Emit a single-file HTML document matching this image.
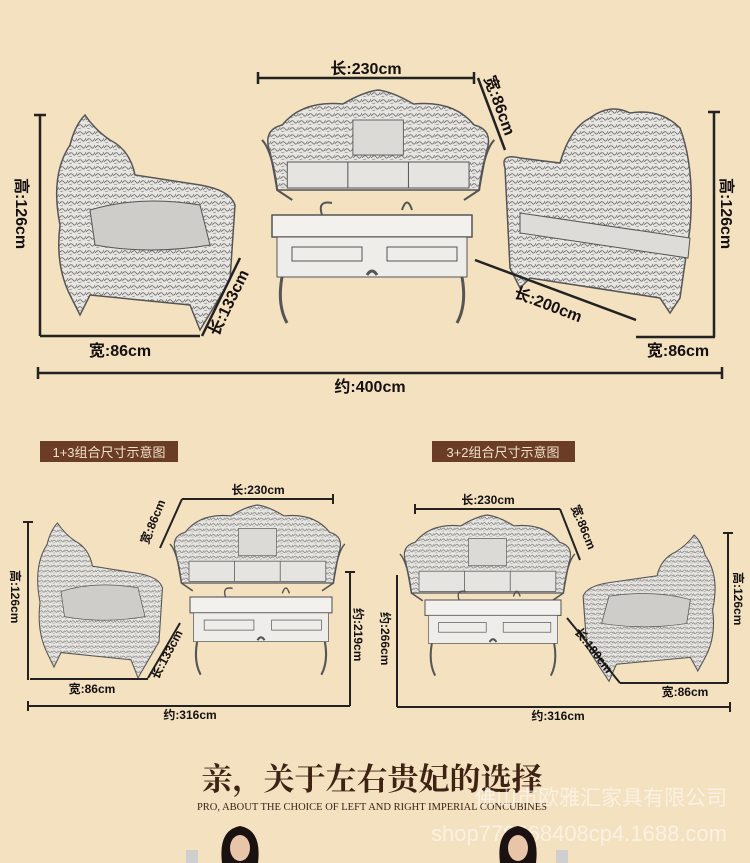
<!DOCTYPE html>
<html><head><meta charset="utf-8"><style>
html,body{margin:0;padding:0;background:#f3e1c0;}
svg{display:block}
text{font-family:"Liberation Sans","Noto Sans CJK SC",sans-serif;fill:#151010;}
</style></head><body>
<svg width="750" height="863" viewBox="0 0 750 863" xmlns="http://www.w3.org/2000/svg">
<defs>
<pattern id="h" width="9" height="7" patternUnits="userSpaceOnUse">
<rect width="9" height="7" fill="#e6e5e2"/>
<path d="M0 5 Q3 1 5 4 T9 2" stroke="#75736f" stroke-width="0.9" fill="none"/>
<path d="M1 7 L4 6" stroke="#8e8c88" stroke-width="0.7"/>
</pattern>
<g id="sofa">
<path d="M8 62 Q0 40 20 35 Q40 10 80 14 Q100 2 115 0 Q130 2 150 14 Q190 10 210 35 Q230 40 222 62 L215 100 L15 100 Z" fill="url(#h)" stroke="#555" stroke-width="1.5"/>
<rect x="25" y="72" width="180" height="26" fill="#e6e4e0" stroke="#555"/>
<line x1="85" y1="72" x2="85" y2="98" stroke="#555"/><line x1="145" y1="72" x2="145" y2="98" stroke="#555"/>
<path d="M0 50 Q10 60 15 100 L30 110 M230 50 Q220 60 215 100 L200 110" stroke="#555" stroke-width="2" fill="none"/>
<rect x="90" y="30" width="50" height="35" fill="#dcdad6" stroke="#666"/>
</g>
<g id="table">
<rect x="0" y="0" width="200" height="22" fill="#f2f1ee" stroke="#555" stroke-width="1.5"/>
<rect x="5" y="22" width="190" height="40" fill="#eeedea" stroke="#555"/>
<rect x="20" y="32" width="70" height="14" fill="none" stroke="#555"/><rect x="115" y="32" width="70" height="14" fill="none" stroke="#555"/>
<path d="M10 62 Q5 90 15 108 M190 62 Q195 90 185 108 M95 60 Q100 52 105 60" stroke="#555" stroke-width="3" fill="none"/>
<path d="M50 0 Q45 -15 60 -12 M130 -5 Q135 -20 140 -5" stroke="#555" stroke-width="2" fill="none"/>
</g>
<g id="chair">
<path d="M20 30 Q25 10 35 0 Q45 15 60 25 Q80 35 85 60 L150 70 Q180 75 185 90 L180 165 L165 190 L150 215 L140 190 L40 180 L30 200 L20 180 Q5 150 10 110 Q0 60 20 30 Z" fill="url(#h)" stroke="#555" stroke-width="1.5"/>
<path d="M40 95 Q90 80 150 90 L160 130 Q100 140 45 130 Z" fill="#cfcdca" stroke="#555"/>
</g>
</defs>

<!-- TOP -->
<use href="#chair" transform="translate(50,115) scale(1,1)"/>
<use href="#sofa" transform="translate(262,90) scale(1.01,1)"/>
<use href="#table" transform="translate(272,215) scale(1.0,1)"/>
<g transform="translate(500,108)">
<path d="M5 60 Q0 45 20 50 L60 55 Q70 20 90 10 Q110 -5 130 5 Q160 0 180 20 Q195 60 190 120 L180 190 L170 205 L160 190 L30 170 L20 180 L10 160 Z" fill="url(#h)" stroke="#555" stroke-width="1.5"/>
<path d="M20 105 L190 130 L188 150 L20 125 Z" fill="#dedcd8" stroke="#555"/>
</g>

<g stroke="#222" stroke-width="2.5" fill="none">
<path d="M258 78 H474 M258 72 V84 M474 72 V84"/>
<path d="M478 78 L505 150"/>
<path d="M40 115 V336 M34 115 H46"/>
<path d="M40 336 H200"/>
<path d="M240 258 L202 336"/>
<path d="M475 260 L636 320"/>
<path d="M636 337 H715"/>
<path d="M714 112 V337 M708 112 H720"/>
<path d="M38 373 H722 M38 367 V379 M722 367 V379"/>
</g>
<g font-weight="bold">
<text x="366" y="74" font-size="16" text-anchor="middle">长:230cm</text>
<text transform="translate(484,78) rotate(70)" font-size="16">宽:86cm</text>
<text transform="translate(16,178) rotate(90)" font-size="16">高:126cm</text>
<text x="120" y="356" font-size="16" text-anchor="middle">宽:86cm</text>
<text transform="translate(218,337) rotate(-64)" font-size="16">长:133cm</text>
<text transform="translate(513,297) rotate(21)" font-size="16">长:200cm</text>
<text x="678" y="356" font-size="16" text-anchor="middle">宽:86cm</text>
<text transform="translate(721,178) rotate(90)" font-size="16">高:126cm</text>
<text x="370" y="392" font-size="16" text-anchor="middle">约:400cm</text>
</g>

<!-- BOTTOM LEFT -->
<rect x="40" y="441" width="138" height="21" fill="#6b3d27"/>
<text x="109" y="457" font-size="13" text-anchor="middle" style="fill:#f2e2c8">1+3组合尺寸示意图</text>
<use href="#chair" transform="translate(33,523) scale(0.7,0.72)"/>
<use href="#sofa" transform="translate(170,505) scale(0.76,0.78)"/>
<use href="#table" transform="translate(190,597) scale(0.71,0.72)"/>
<g stroke="#222" stroke-width="2" fill="none">
<path d="M182 499 H333 M333 494 V504"/>
<path d="M182 499 L160 548"/>
<path d="M28 522 V680 M23 522 H33"/>
<path d="M30 679 H148"/>
<path d="M180 623 L148 678"/>
<path d="M350 572 V706 M345 572 H355"/>
<path d="M28 706 H350 M28 701 V711"/>
</g>
<g font-weight="bold">
<text x="258" y="494" font-size="12" text-anchor="middle">长:230cm</text>
<text transform="translate(148,545) rotate(-68)" font-size="12">宽:86cm</text>
<text transform="translate(11,570) rotate(90)" font-size="12">高:126cm</text>
<text x="92" y="693" font-size="12" text-anchor="middle">宽:86cm</text>
<text transform="translate(158,680) rotate(-62)" font-size="12">长:133cm</text>
<text transform="translate(354,608) rotate(90)" font-size="12">约:219cm</text>
<text x="190" y="719" font-size="12" text-anchor="middle">约:316cm</text>
</g>

<!-- BOTTOM RIGHT -->
<rect x="432" y="441" width="143" height="21" fill="#6b3d27"/>
<text x="503" y="457" font-size="13" text-anchor="middle" style="fill:#f2e2c8">3+2组合尺寸示意图</text>
<use href="#sofa" transform="translate(400,515) scale(0.76,0.78)"/>
<use href="#table" transform="translate(425,600) scale(0.68,0.7)"/>
<g transform="translate(720,535) scale(-0.74,0.68)"><use href="#chair"/></g>
<g stroke="#222" stroke-width="2" fill="none">
<path d="M415 509 H560 M415 504 V514"/>
<path d="M560 509 L580 560"/>
<path d="M728 533 V683 M723 533 H733"/>
<path d="M620 683 H728"/>
<path d="M567 618 L620 683"/>
<path d="M397 575 V707"/>
<path d="M397 707 H730 M730 702 V712"/>
</g>
<g font-weight="bold">
<text x="488" y="504" font-size="12" text-anchor="middle">长:230cm</text>
<text transform="translate(571,507) rotate(68)" font-size="12">宽:86cm</text>
<text transform="translate(734,572) rotate(90)" font-size="12">高:126cm</text>
<text x="685" y="696" font-size="12" text-anchor="middle">宽:86cm</text>
<text transform="translate(574,632) rotate(52)" font-size="12">长:180cm</text>
<text transform="translate(381,612) rotate(90)" font-size="12">约:266cm</text>
<text x="558" y="720" font-size="12" text-anchor="middle">约:316cm</text>
</g>

<!-- HEADING -->
<text x="372" y="790" font-size="31" font-weight="bold" text-anchor="middle" style="fill:#3e2214;font-family:'Liberation Serif','Noto Serif CJK SC',serif">亲，关于左右贵妃的选择</text>
<text x="372" y="810" font-size="10.5" text-anchor="middle" style="fill:#3a2418;font-family:'Liberation Serif',serif">PRO, ABOUT THE CHOICE OF LEFT AND RIGHT IMPERIAL CONCUBINES</text>
<text x="727" y="805" font-size="21" text-anchor="end" style="fill:#ffffff;fill-opacity:0.55">佛山市欧雅汇家具有限公司</text>
<text x="727" y="841" font-size="22" text-anchor="end" style="fill:#ffffff;fill-opacity:0.55">shop779268408cp4.1688.com</text>

<!-- women -->
<path d="M222 863 Q218 830 240 826 Q262 830 258 863 Z" fill="#1a1210"/>
<ellipse cx="240" cy="848" rx="10" ry="13" fill="#e8c4a8"/>
<path d="M500 863 Q496 830 518 826 Q540 830 536 863 Z" fill="#1a1210"/>
<ellipse cx="518" cy="848" rx="10" ry="13" fill="#e8c4a8"/>
<rect x="186" y="850" width="12" height="13" fill="#cfcfcf"/>
<rect x="556" y="850" width="12" height="13" fill="#cfcfcf"/>
</svg>
</body></html>
